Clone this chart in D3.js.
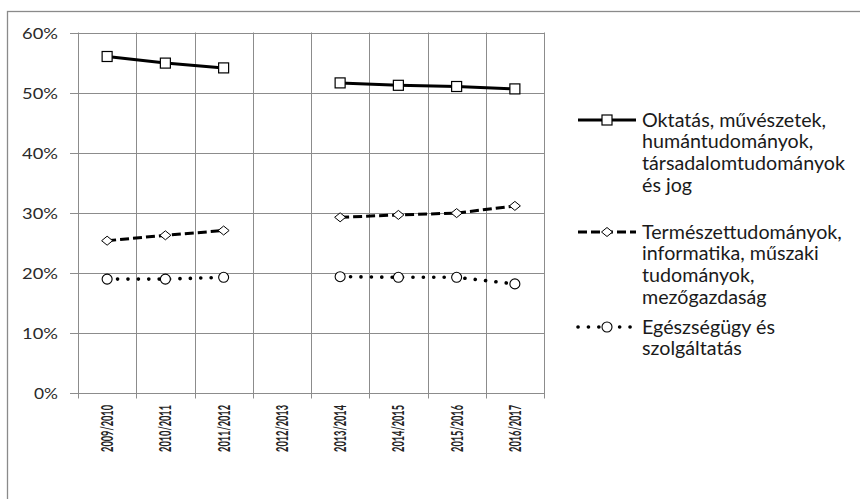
<!DOCTYPE html>
<html>
<head>
<meta charset="utf-8">
<script src="https://cdn.jsdelivr.net/npm/d3@7"></script>
<style>
  html, body { margin: 0; padding: 0; background: #fff; }
  svg { display: block; }
  text { font-family: Lato, "Open Sans", sans-serif; }
</style>
</head>
<body>
<svg id="chart" width="860" height="499"></svg>
<script>
// School years on the category axis (2012/2013 has no data)
const categories = ["2009/2010", "2010/2011", "2011/2012", "2012/2013",
                    "2013/2014", "2014/2015", "2015/2016", "2016/2017"];

// Share of students by field group (percent)
const oktatas      = [56.0, 54.9, 54.1, null, 51.6, 51.2, 51.0, 50.6];
const termeszet    = [25.3, 26.2, 27.0, null, 29.2, 29.6, 29.9, 31.1];
const egeszsegugy  = [18.9, 18.9, 19.2, null, 19.3, 19.2, 19.2, 18.1];

const seriesNames = [
  ["Oktatás, művészetek,", "humántudományok,", "társadalomtudományok", "és jog"],
  ["Természettudományok,", "informatika, műszaki", "tudományok,", "mezőgazdaság"],
  ["Egészségügy és", "szolgáltatás"]
];

const yTicks = [0, 10, 20, 30, 40, 50, 60];

const svg = d3.select("#chart");

// outer chart frame
svg.append("rect")
  .attr("x", 7.5).attr("y", 11.5)
  .attr("width", 900).attr("height", 600)
  .attr("fill", "none").attr("stroke", "#8a8a8a").attr("stroke-width", 1.3);

const plot = { left: 78, right: 544, top: 32.5, bottom: 392.5 };

const x = d3.scaleBand().domain(categories).range([plot.left, plot.right]).padding(0);
const y = d3.scaleLinear().domain([0, 60]).range([plot.bottom, plot.top]);

const gridColor = "#8c8c8c";
const grid = svg.append("g");

// horizontal gridlines (extend left as tick marks)
grid.selectAll("line.h").data(yTicks).join("line")
  .attr("x1", plot.left - 8).attr("x2", plot.right)
  .attr("y1", d => Math.round(y(d)) + 0.5).attr("y2", d => Math.round(y(d)) + 0.5)
  .attr("stroke", gridColor).attr("stroke-width", 1);

// vertical gridlines at category boundaries (extend below as tick marks)
const bounds = categories.map(c => x(c)).concat([plot.right]);
grid.selectAll("line.v").data(bounds).join("line")
  .attr("x1", d => Math.round(d) + 0.5).attr("x2", d => Math.round(d) + 0.5)
  .attr("y1", plot.top).attr("y2", plot.bottom + 6)
  .attr("stroke", gridColor).attr("stroke-width", 1);

// y axis labels
const yAxis = d3.axisLeft(y).tickValues(yTicks).tickSize(0).tickPadding(0)
  .tickFormat(d => d + "%");
const yg = svg.append("g").attr("transform", `translate(${plot.left - 20},0)`).call(yAxis);
yg.select(".domain").remove();
yg.selectAll("text")
  .attr("fill", "#2a2a2a").attr("font-size", 16)
  .attr("font-family", "Lato, sans-serif")
  .attr("dy", "0.36em")
  .each(function() {
    const t = d3.select(this);
    const w = this.getComputedTextLength();
    const s = (this.textContent.length === 3 ? 36 : 24) / w;
    t.attr("transform", `scale(${s},1)`).attr("x", 0);
  });

// x axis labels, rotated and condensed along the reading direction
const xAxis = d3.axisBottom(x).tickSize(0).tickPadding(0);
const xg = svg.append("g").attr("transform", `translate(0,${plot.bottom})`).call(xAxis);
xg.select(".domain").remove();
xg.selectAll("text")
  .style("font-size", "17px")
  .style("font-weight", "bold")
  .attr("fill", "#222")
  .attr("font-family", "Lato, sans-serif")
  .attr("text-anchor", "end")
  .attr("x", 0).attr("y", 0).attr("dy", "0.36em")
  .each(function() {
    const s = 47 / this.getComputedTextLength();
    d3.select(this).attr("transform", `translate(0,12.5) rotate(-90) scale(${s},1)`);
  });

// series styles
const series = [
  { values: oktatas, dash: null, cap: "butt", width: 3, marker: "square" },
  { values: termeszet, dash: "9,4", cap: "butt", width: 3, marker: "diamond" },
  { values: egeszsegugy, dash: "0.1,10.3", cap: "round", width: 3.6, marker: "circle" }
];

const cx = c => x(c) + x.bandwidth() / 2;

const line = d3.line()
  .defined(d => d.v !== null)
  .x(d => cx(d.c))
  .y(d => y(d.v));

function drawMarker(g, type) {
  if (type === "square") {
    g.append("rect").attr("x", -5).attr("y", -5).attr("width", 10).attr("height", 10)
      .attr("fill", "#fff").attr("stroke", "#000").attr("stroke-width", 1.2);
  } else if (type === "diamond") {
    g.append("path").attr("d", "M-5.5,0L0,-4.5L5.5,0L0,4.5Z")
      .attr("fill", "#fff").attr("stroke", "#000").attr("stroke-width", 1);
  } else {
    g.append("circle").attr("r", 5)
      .attr("fill", "#fff").attr("stroke", "#000").attr("stroke-width", 1.1);
  }
}

series.forEach(s => {
  const data = categories.map((c, i) => ({ c, v: s.values[i] }));
  svg.append("path")
    .attr("d", line(data))
    .attr("fill", "none").attr("stroke", "#000")
    .attr("stroke-width", s.width)
    .attr("stroke-linecap", s.cap)
    .attr("stroke-dasharray", s.dash);
  data.filter(d => d.v !== null).forEach(d => {
    const g = svg.append("g").attr("transform", `translate(${cx(d.c)},${y(d.v)})`);
    drawMarker(g, s.marker);
  });
});

// legend
const legendTop = [120, 232, 327];
const lineGap = 21.6;
const legend = svg.append("g");
const textGroups = [];
let widest = 0;
series.forEach((s, i) => {
  const yy = legendTop[i];
  legend.append("line")
    .attr("x1", 578).attr("x2", 636).attr("y1", yy).attr("y2", yy)
    .attr("stroke", "#000").attr("stroke-width", s.width)
    .attr("stroke-linecap", s.cap)
    .attr("stroke-dasharray", s.dash);
  const g = legend.append("g").attr("transform", `translate(607,${yy})`);
  drawMarker(g, s.marker);
  const tg = legend.append("g");
  tg.selectAll("text").data(seriesNames[i]).join("text")
    .attr("x", 0).attr("y", (d, j) => yy + j * lineGap)
    .attr("dy", "0.36em")
    .attr("fill", "#1a1a1a").attr("font-size", 19)
    .text(d => d)
    .each(function() { widest = Math.max(widest, this.getComputedTextLength()); });
  textGroups.push(tg);
});
// fit the widest legend line into the space right of the symbols
const legendScale = 203 / widest;
textGroups.forEach(tg => tg.attr("transform", `translate(642,0) scale(${legendScale},1)`));
</script>
</body>
</html>
